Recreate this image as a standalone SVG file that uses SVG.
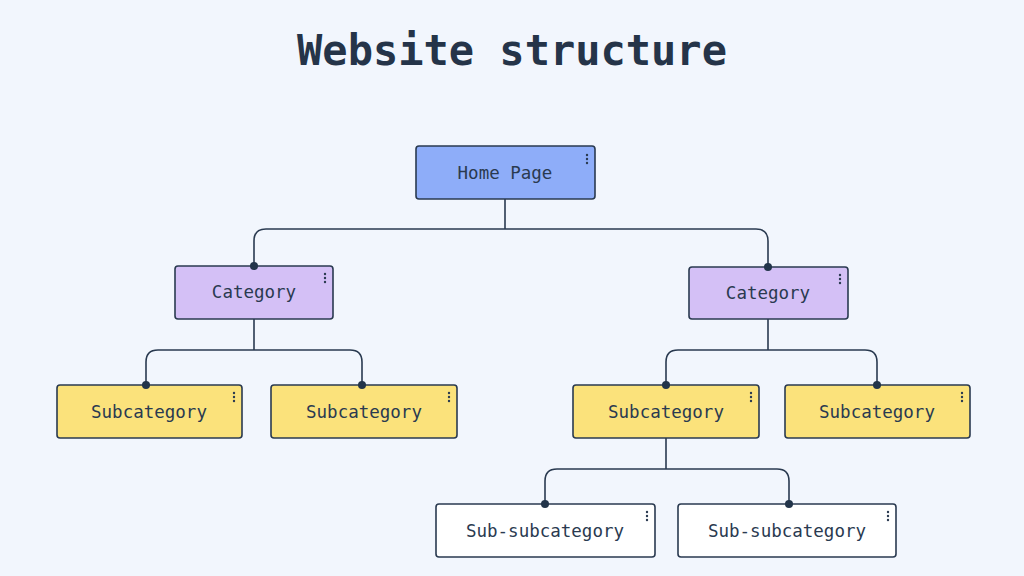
<svg xmlns="http://www.w3.org/2000/svg" width="1024" height="576" viewBox="0 0 1024 576">
<style>
.bg{fill:#f2f6fd}
.box{stroke:#2a3a50;stroke-width:1.6}
.home{fill:#8eadf9}
.cat{fill:#d4c0f6}
.sub{fill:#fbe27b}
.ss{fill:#ffffff}
.lbl{font-family:"DejaVu Sans Mono","Liberation Mono",monospace;font-size:17.5px;fill:#2a3a50;text-anchor:middle}
.title{font-family:"DejaVu Sans Mono","Liberation Mono",monospace;font-size:42px;font-weight:bold;fill:#253449;text-anchor:middle}
.conn{fill:none;stroke:#2a3a50;stroke-width:1.6}
.dot{fill:#22344a}
.menu{fill:#2a3a50}
</style>
<defs>
<g id="menu"><circle cx="0" cy="0" r="1.2" class="menu"/><circle cx="0" cy="4" r="1.2" class="menu"/><circle cx="0" cy="8" r="1.2" class="menu"/></g>
</defs>
<rect class="bg" x="0" y="0" width="1024" height="576"/>
<text class="title" x="512" y="65">Website structure</text>
<g id="home">
<rect class="box home" x="416" y="146" width="179" height="53" rx="3"/>
<text class="lbl" x="505" y="179">Home Page</text>
<use href="#menu" x="587" y="155"/>
</g>
<g id="cat1">
<rect class="box cat" x="175" y="266" width="158" height="53" rx="3"/>
<text class="lbl" x="254" y="298">Category</text>
<use href="#menu" x="325" y="274"/>
</g>
<g id="cat2">
<rect class="box cat" x="689" y="267" width="159" height="52" rx="3"/>
<text class="lbl" x="768" y="299">Category</text>
<use href="#menu" x="840" y="275"/>
</g>
<g id="sub1">
<rect class="box sub" x="57" y="385" width="185" height="53" rx="3"/>
<text class="lbl" x="149" y="418">Subcategory</text>
<use href="#menu" x="234" y="393"/>
</g>
<g id="sub2">
<rect class="box sub" x="271" y="385" width="186" height="53" rx="3"/>
<text class="lbl" x="364" y="418">Subcategory</text>
<use href="#menu" x="449" y="393"/>
</g>
<g id="sub3">
<rect class="box sub" x="573" y="385" width="186" height="53" rx="3"/>
<text class="lbl" x="666" y="418">Subcategory</text>
<use href="#menu" x="751" y="393"/>
</g>
<g id="sub4">
<rect class="box sub" x="785" y="385" width="185" height="53" rx="3"/>
<text class="lbl" x="877" y="418">Subcategory</text>
<use href="#menu" x="962" y="393"/>
</g>
<g id="subsub1">
<rect class="box ss" x="436" y="504" width="219" height="53" rx="3"/>
<text class="lbl" x="545" y="537">Sub-subcategory</text>
<use href="#menu" x="647" y="512"/>
</g>
<g id="subsub2">
<rect class="box ss" x="678" y="504" width="218" height="53" rx="3"/>
<text class="lbl" x="787" y="537">Sub-subcategory</text>
<use href="#menu" x="888" y="512"/>
</g>
<g id="connectors">
<path class="conn" d="M505 199 V229 M505 229 H266 Q254 229 254 241 V266 M505 229 H756 Q768 229 768 241 V267"/>
<path class="conn" d="M254 319 V350 M254 350 H158 Q146 350 146 362 V385 M254 350 H350 Q362 350 362 362 V385"/>
<path class="conn" d="M768 319 V350 M768 350 H678 Q666 350 666 362 V385 M768 350 H865 Q877 350 877 362 V385"/>
<path class="conn" d="M666 438 V469 M666 469 H557 Q545 469 545 481 V504 M666 469 H777 Q789 469 789 481 V504"/>
<circle class="dot" cx="254" cy="266" r="4"/>
<circle class="dot" cx="768" cy="267" r="4"/>
<circle class="dot" cx="146" cy="385" r="4"/>
<circle class="dot" cx="362" cy="385" r="4"/>
<circle class="dot" cx="666" cy="385" r="4"/>
<circle class="dot" cx="877" cy="385" r="4"/>
<circle class="dot" cx="545" cy="504" r="4"/>
<circle class="dot" cx="789" cy="504" r="4"/>
</g>
</svg>
